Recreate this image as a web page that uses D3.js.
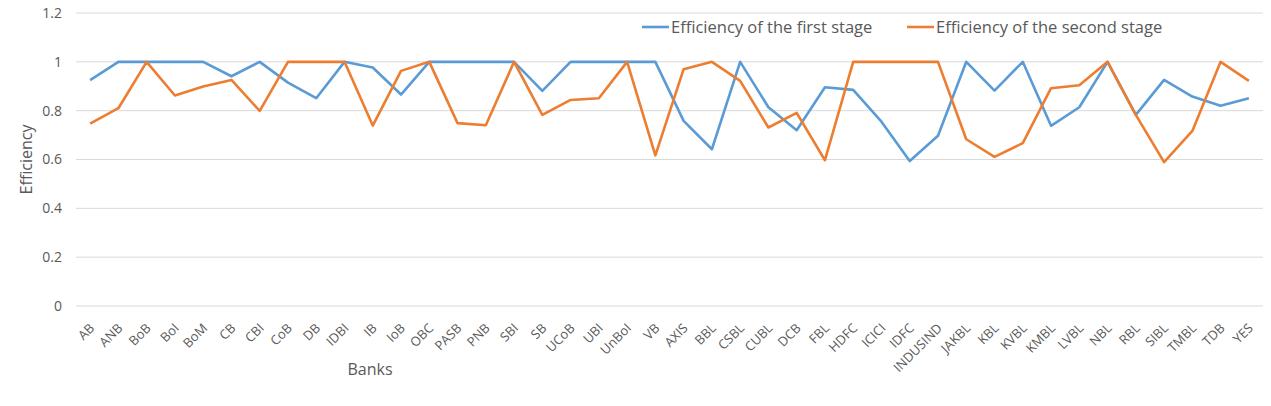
<!DOCTYPE html>
<html>
<head>
<meta charset="utf-8">
<script src="https://cdn.jsdelivr.net/npm/d3@7"></script>
<style>
	body { margin: 0; background: #fff; }
	svg text { fill: #595959; }
	.grid line { stroke: #d9d9d9; stroke-width: 1; }
	.series { fill: none; stroke-width: 2.6; stroke-linejoin: round; }
</style>
</head>
<body>
<svg id="chart" width="1271" height="406"></svg>
<script>
const banks = ['AB', 'ANB', 'BoB', 'BoI', 'BoM', 'CB', 'CBI', 'CoB', 'DB', 'IDBI', 'IB', 'IoB', 'OBC', 'PASB', 'PNB', 'SBI', 'SB', 'UCoB', 'UBI', 'UnBoI', 'VB',
	'AXIS', 'BBL', 'CSBL', 'CUBL', 'DCB', 'FBL', 'HDFC', 'ICICI', 'IDFC', 'INDUSIND', 'JAKBL', 'KBL', 'KVBL', 'KMBL', 'LVBL', 'NBL', 'RBL', 'SIBL', 'TMBL', 'TDB', 'YES'];

const firstStage = [0.925, 1, 1, 1, 1, 0.941, 1, 0.915, 0.851, 1, 0.977, 0.866, 1, 1, 1, 1, 0.881, 1, 1, 1, 1,
	0.758, 0.642, 1, 0.814, 0.720, 0.896, 0.885, 0.755, 0.594, 0.697, 1, 0.882, 1, 0.738, 0.814, 1, 0.783, 0.926, 0.858, 0.820, 0.851];

const secondStage = [0.747, 0.810, 1, 0.862, 0.899, 0.926, 0.799, 1, 1, 1, 0.739, 0.963, 1, 0.749, 0.740, 1, 0.783, 0.844, 0.851, 1, 0.617,
	0.970, 1, 0.922, 0.731, 0.791, 0.597, 1, 1, 1, 1, 0.683, 0.611, 0.667, 0.892, 0.904, 1, 0.783, 0.589, 0.717, 1, 0.922];

const yTicks = [0, 0.2, 0.4, 0.6, 0.8, 1, 1.2];

const seriesList = [
	{ name: 'Efficiency of the first stage', values: firstStage, color: '#5b9bd5' },
	{ name: 'Efficiency of the second stage', values: secondStage, color: '#ed7d31' },
];

const svg = d3.select('svg#chart');
const plot = { left: 76, right: 1263, top: 13, bottom: 306 };

const x = d3.scaleBand(banks, [ plot.left, plot.right ]);
const y = d3.scaleLinear([ 0, 1.2 ], [ plot.bottom, plot.top ]);
const cx = d => x(d) + x.bandwidth() / 2;

// gridlines
svg.append('g').attr('class', 'grid')
	.selectAll('line')
	.data(yTicks)
	.join('line')
	.attr('x1', plot.left)
	.attr('x2', plot.right)
	.attr('y1', d => y(d))
	.attr('y2', d => y(d));

// y axis labels
const yAxis = svg.append('g')
	.attr('transform', `translate(${plot.left - 14}, 0)`)
	.call(d3.axisLeft(y).tickValues(yTicks).tickSize(0).tickPadding(0).tickFormat(d => String(+d.toFixed(1))));
yAxis.select('.domain').remove();
yAxis.selectAll('text')
	.attr('font-family', 'Open Sans, sans-serif')
	.attr('font-size', 14)
	.style('fill', '#595959');

// x axis labels, rotated
const xAxis = svg.append('g')
	.attr('transform', `translate(0, ${plot.bottom})`)
	.call(d3.axisBottom(x).tickSize(0).tickPadding(0));
xAxis.select('.domain').remove();
xAxis.selectAll('text')
	.attr('font-family', 'Open Sans, sans-serif')
	.attr('font-size', 13)
	.attr('text-anchor', 'end')
	.attr('dy', 0)
	.attr('transform', 'translate(5, 23) rotate(-45)')
	.style('fill', '#595959');

// lines
const line = d3.line()
	.x((d, i) => cx(banks[i]))
	.y(d => y(d));

svg.selectAll('path.series')
	.data(seriesList)
	.join('path')
	.attr('class', 'series')
	.attr('stroke', d => d.color)
	.attr('d', d => line(d.values));

// axis titles
svg.append('text')
	.attr('transform', `translate(32, ${(plot.top + plot.bottom) / 2}) rotate(-90)`)
	.attr('text-anchor', 'middle')
	.attr('font-family', 'Open Sans, sans-serif')
	.attr('font-size', 16)
	.text('Efficiency');

svg.append('text')
	.attr('x', 370)
	.attr('y', 375)
	.attr('text-anchor', 'middle')
	.attr('font-family', 'Open Sans, sans-serif')
	.attr('font-size', 16)
	.text('Banks');

// legend
const legendX = [ 642, 907 ];
const legend = svg.selectAll('g.legend')
	.data(seriesList)
	.join('g')
	.attr('class', 'legend')
	.attr('transform', (d, i) => `translate(${legendX[i]}, 27)`);
legend.append('line')
	.attr('x1', 0).attr('x2', 27)
	.attr('stroke', d => d.color)
	.attr('stroke-width', 2.6);
legend.append('text')
	.attr('x', 29)
	.attr('dy', '0.35em')
	.attr('font-family', 'Open Sans, sans-serif')
	.attr('font-size', 16.5)
	.text(d => d.name);
</script>
</body>
</html>
